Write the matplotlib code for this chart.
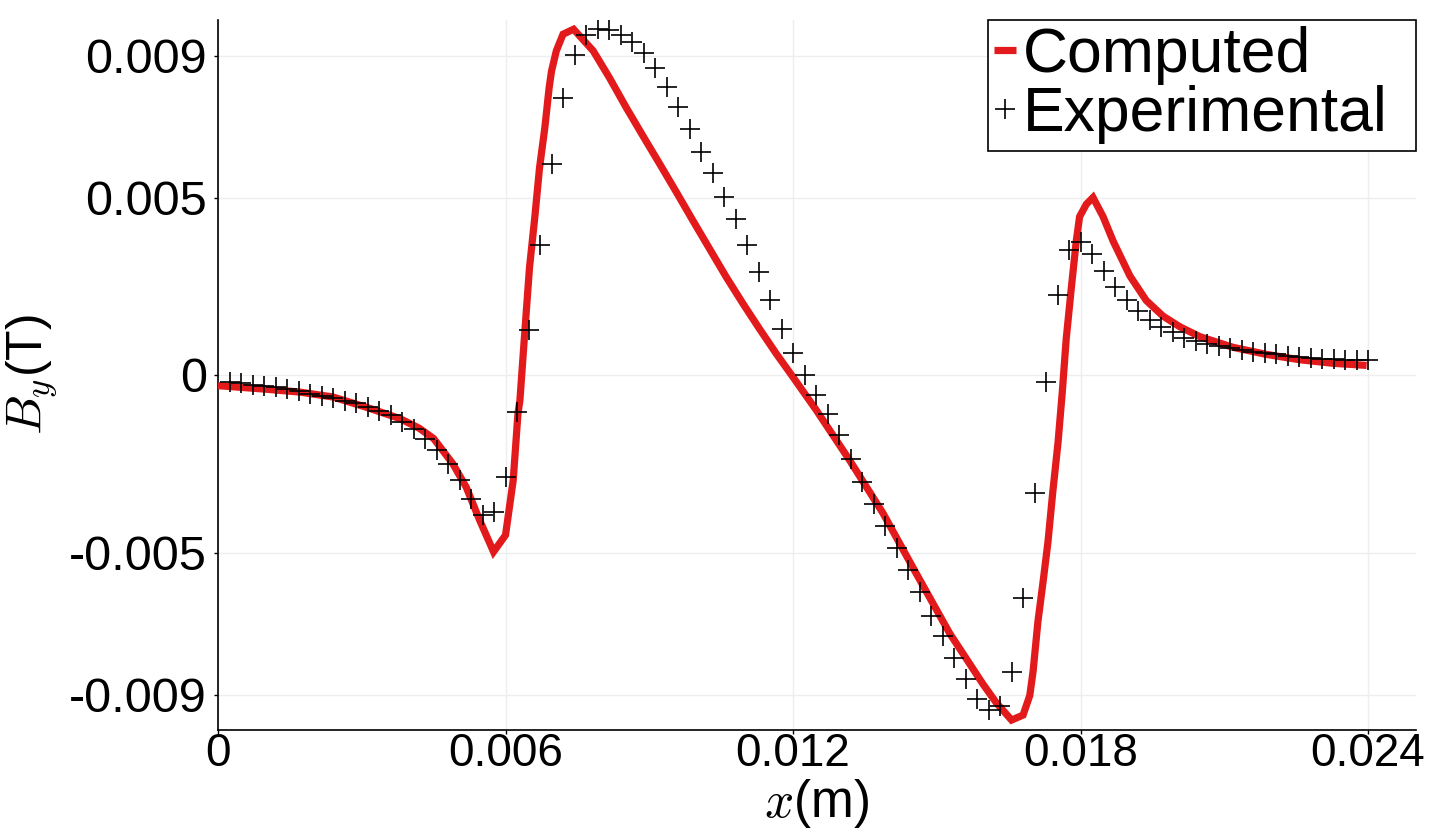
import numpy as np
import matplotlib
matplotlib.use('Agg')
import matplotlib.pyplot as plt

plt.rcParams['font.family'] = ['Liberation Sans', 'DejaVu Sans']
plt.rcParams['mathtext.fontset'] = 'cm'

# Computed curve (x in mm, By in mT)
comp_x_mm = [0.0, 0.5, 1.0, 1.7, 2.4, 3.1, 3.8, 4.2, 4.5, 4.9, 5.18, 5.46, 5.75,
             6.00, 6.16, 6.26, 6.30, 6.40, 6.50, 6.61, 6.71, 6.82, 6.91, 6.96, 7.06,
             7.20, 7.42, 7.83, 8.17, 8.52, 8.87, 9.22, 9.57, 9.91, 10.26, 10.61,
             10.96, 11.30, 11.65, 12.00, 12.49, 13.18, 13.88, 14.57, 15.27, 15.96,
             16.24, 16.56, 16.80, 16.94, 17.01, 17.11, 17.22, 17.32, 17.42, 17.53,
             17.62, 17.70, 17.81, 17.91, 17.98, 18.12, 18.26, 18.47, 18.68, 19.03,
             19.37, 19.72, 20.07, 20.49, 21.18, 21.88, 22.57, 23.27, 23.97]
comp_y_mT = [-0.30, -0.35, -0.40, -0.48, -0.62, -0.91, -1.23, -1.50, -1.79, -2.50,
             -3.16, -4.09, -4.98, -4.51, -2.97, -1.08, -0.72, 1.17, 3.02, 4.43, 5.84,
             6.96, 8.09, 8.56, 9.13, 9.60, 9.74, 9.13, 8.37, 7.53, 6.73, 5.94, 5.14,
             4.35, 3.55, 2.75, 2.00, 1.30, 0.60, -0.06, -1.00, -2.40, -3.90, -5.59,
             -7.28, -8.70, -9.23, -9.72, -9.58, -9.03, -8.34, -6.95, -5.80, -4.70,
             -3.30, -1.90, -0.46, 1.01, 2.49, 3.77, 4.46, 4.81, 5.00, 4.46, 3.77,
             2.79, 2.10, 1.66, 1.36, 1.08, 0.78, 0.58, 0.43, 0.33, 0.27]

# Experimental points (x every 0.24 mm, By in mT)
exp_x = np.linspace(0.00024, 0.024, 100)
exp_y_mT = [-0.20, -0.23, -0.27, -0.31, -0.34, -0.39, -0.45, -0.53, -0.58, -0.64,
            -0.72, -0.79, -0.89, -1.00, -1.12, -1.33, -1.51, -1.80, -2.12, -2.50,
            -2.97, -3.48, -3.95, -3.86, -2.87, -1.03,
            1.27, 3.66, 5.94, 7.79, 9.01, 9.59, 9.76, 9.73, 9.59, 9.39, 9.08, 8.65,
            8.11, 7.55, 6.92,
            6.29, 5.69, 5.02, 4.39, 3.66, 2.89, 2.10, 1.30, 0.61, 0.01, -0.56, -1.10,
            -1.70, -2.36, -3.01, -3.62, -4.25, -4.86, -5.48, -6.12, -6.78, -7.35,
            -7.96, -8.56, -9.13, -9.45, -9.31, -8.36, -6.29, -3.31, -0.21,
            2.26, 3.52, 3.74, 3.41, 2.94, 2.48, 2.10, 1.80, 1.55, 1.35, 1.21, 1.05,
            0.95, 0.88, 0.81, 0.75, 0.71, 0.66, 0.61, 0.58, 0.54, 0.50, 0.47, 0.46,
            0.44, 0.43, 0.41, 0.41]

xticks = [0, 0.006, 0.012, 0.018, 0.024]
xtick_labels = ['0', '0.006', '0.012', '0.018', '0.024']
yticks = [-0.009, -0.005, 0, 0.005, 0.009]
ytick_labels = ['-0.009', '-0.005', '0', '0.005', '0.009']

fig = plt.figure(figsize=(14.36, 8.36), dpi=100)
ax = fig.add_axes([218 / 1436, 106 / 836, 1198 / 1436, 710 / 836])

ax.plot(np.array(comp_x_mm) * 1e-3, np.array(comp_y_mT) * 1e-3, color='#E31A1C',
        lw=5.2, solid_joinstyle='miter', solid_capstyle='butt', label='Computed',
        zorder=3)
ax.plot(exp_x, np.array(exp_y_mT) * 1e-3, ls='none', marker='+', ms=15, mew=1.2,
        color='black', label='Experimental', zorder=4)

ax.set_xlim(0, 0.025)
ax.set_ylim(-0.01, 0.01)
ax.set_xticks(xticks)
ax.set_xticklabels(xtick_labels)
ax.set_yticks(yticks)
ax.set_yticklabels(ytick_labels)
ax.grid(color='#EEEEEE', lw=1)
ax.set_axisbelow(True)
for s in ['top', 'right']:
    ax.spines[s].set_visible(False)
for s in ['left', 'bottom']:
    ax.spines[s].set_linewidth(1.2)
ax.tick_params(axis='x', length=3, width=1, labelsize=33, direction='out', pad=-1.5)
ax.tick_params(axis='y', length=3, width=1, labelsize=35, direction='out', pad=5)

ax.set_xlabel(r'$x$(m)', fontsize=37, labelpad=1)
ax.set_ylabel(r'$B_y$(T)', fontsize=36, labelpad=7)

x0 = (988 - 218) / 1198
leg = ax.legend(loc='upper right', bbox_to_anchor=(x0, 0, 1 - x0, 1),
                mode='expand', borderaxespad=0,
                fontsize=45, handlelength=0.35, handletextpad=0.1, borderpad=0.1,
                labelspacing=0.0, fancybox=False, framealpha=1, edgecolor='black')
leg.get_frame().set_linewidth(1.2)

fig.savefig('out.png', dpi=100)
